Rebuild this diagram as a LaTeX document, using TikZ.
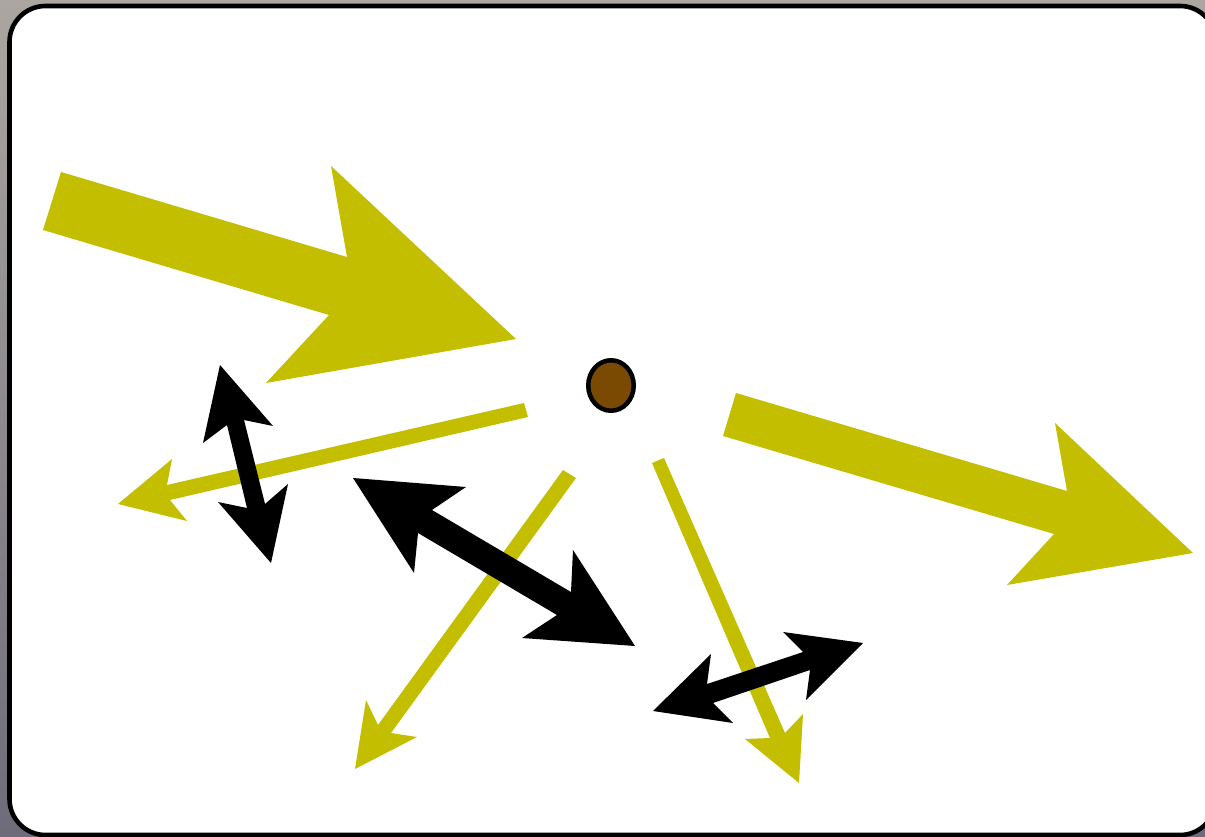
\documentclass[tikz,border=0pt]{standalone}
\usetikzlibrary{shapes.geometric}
\definecolor{arrowyellow}{RGB}{196,190,0}
\definecolor{dotbrown}{RGB}{122,74,2}
\definecolor{bgtop}{RGB}{172,166,161}
\definecolor{bgbottom}{RGB}{110,108,122}
\tikzset{
  yarrow/.style={fill=arrowyellow, draw=none},
  karrow/.style={fill=black, draw=none},
  frame/.style={draw=black, fill=white, line width=4.6pt, rounded corners=36pt},
}
\begin{document}
\begin{tikzpicture}[x=1pt,y=-1pt]
\useasboundingbox (0,0) rectangle (1205,837);
\shade[top color=bgtop, bottom color=bgbottom] (0,0) rectangle (1205,837);
\draw[frame] (9.5,6) rectangle (1216,835);
% central dot
\node[ellipse, draw=black, line width=4.5pt, fill=dotbrown, minimum width=45.5pt, minimum height=50.5pt, inner sep=0pt] (dot) at (611,385.5) {};
% big yellow arrow 1
\fill[yarrow] (61,172) -- (347,257) -- (331,166) -- (516,339) -- (266,383) -- (329,315) -- (43,230) -- cycle;
% big yellow arrow 2
\fill[yarrow] (736,393) -- (1067,491) -- (1055,423) -- (1193,553) -- (1007,585) -- (1054,534) -- (723,436) -- cycle;
% yellow arrow left
\fill[yarrow] (524,403) -- (167,485) -- (172,459) -- (118,504) -- (187,521) -- (170,500) -- (528,417) -- cycle;
% yellow arrow down-left
\fill[yarrow] (563,470) -- (378,725) -- (366,700) -- (355,769) -- (417,737) -- (391,733) -- (576,478) -- cycle;
% yellow arrow down-right
\fill[yarrow] (652,463) -- (770,738) -- (745,739) -- (799,783) -- (803,714) -- (785,733) -- (664,458) -- cycle;
% black double arrow 1
\fill[karrow] (220,365) -- (273,426) -- (244,420) -- (265,504) -- (288,484) -- (271,563) -- (218,502) -- (247,508) -- (227,425) -- (203,443) -- cycle;
% black double arrow 2
\fill[karrow] (353,478) -- (466,487) -- (432,510) -- (571,592) -- (573,550) -- (635,646) -- (522,638) -- (557,615) -- (418,533) -- (414,573) -- cycle;
% black double arrow 3
\fill[karrow] (653,711) -- (711,654) -- (707,684) -- (803,652) -- (783,632) -- (863,643) -- (806,700) -- (810,670) -- (713,703) -- (733,723) -- cycle;
\end{tikzpicture}
\end{document}
